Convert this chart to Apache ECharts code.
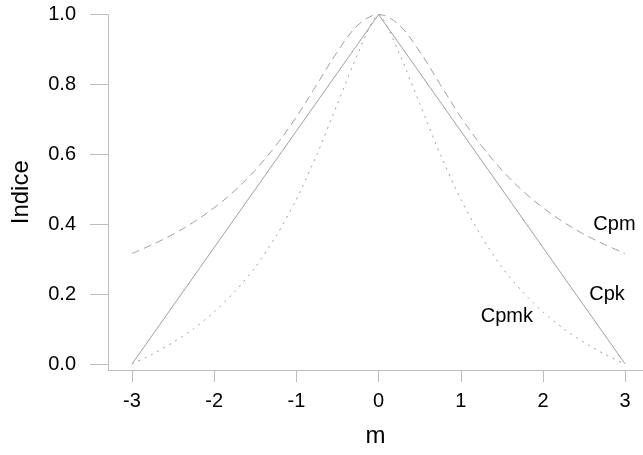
<!DOCTYPE html>
<html>
<head>
<meta charset="utf-8">
<script src="https://cdn.jsdelivr.net/npm/echarts@6/dist/echarts.min.js"></script>
<style>
html,body{margin:0;padding:0;background:#fff;}
#c{width:643px;height:455px;}
</style>
</head>
<body>
<div id="c"></div>
<script>
// m values
var mValues = [-3,-2.75,-2.5,-2.25,-2,-1.75,-1.5,-1.25,-1,-0.75,-0.5,-0.25,0,0.25,0.5,0.75,1,1.25,1.5,1.75,2,2.25,2.5,2.75,3];
// Cpm (dashed)
var cpmValues = [0.316,0.342,0.371,0.406,0.447,0.496,0.555,0.625,0.707,0.800,0.894,0.970,1.000,0.970,0.894,0.800,0.707,0.625,0.555,0.496,0.447,0.406,0.371,0.342,0.316];
// Cpmk (dotted)
var cpmkValues = [0.000,0.028,0.062,0.101,0.149,0.207,0.277,0.365,0.471,0.600,0.745,0.889,1.000,0.889,0.745,0.600,0.471,0.365,0.277,0.207,0.149,0.101,0.062,0.028,0.000];
// Cpk (solid)
var cpkM = [-3,0,3];
var cpkValues = [0,1,0];
// tick labels
var xTicks = [-3,-2,-1,0,1,2,3];
var yTicks = [0,0.2,0.4,0.6,0.8,1.0];
// curve labels
var curveLabels = [
  {name:'Cpm', m:2.87, v:0.40},
  {name:'Cpk', m:2.78, v:0.20},
  {name:'Cpmk', m:1.56, v:0.137}
];

function pairs(xs, ys){ return xs.map(function(x,i){ return [x, ys[i]]; }); }

var FONT = '"Liberation Sans", Arial, Helvetica, sans-serif';
var axisGray = '#bdbdbd';
var lineGray = '#a0a0a0';

var chart = echarts.init(document.getElementById('c'), null, {renderer:'canvas'});
chart.setOption({
  animation:false,
  backgroundColor:'#ffffff',
  grid:{left:108, right:0, top:14.5, bottom:85, containLabel:false},
  xAxis:{
    type:'value', min:-3.292, max:3.217,
    name:'m', nameLocation:'middle', nameGap:54,
    nameTextStyle:{fontFamily:FONT, fontSize:24, color:'#000'},
    axisLine:{show:true, onZero:false, lineStyle:{color:axisGray, width:1}},
    axisTick:{show:true, customValues:xTicks, length:12, inside:false, lineStyle:{color:axisGray}},
    axisLabel:{show:true, customValues:xTicks, margin:21, fontFamily:FONT, fontSize:20, color:'#000',
      formatter:function(v){ return String(v); }},
    splitLine:{show:false}
  },
  yAxis:{
    type:'value', min:-0.0172, max:1.0,
    name:'Indice', nameLocation:'middle', nameGap:75, nameRotate:90,
    nameTextStyle:{fontFamily:FONT, fontSize:24, color:'#000'},
    axisLine:{show:true, onZero:false, lineStyle:{color:axisGray, width:1}},
    axisTick:{show:true, customValues:yTicks, length:18, inside:false, lineStyle:{color:axisGray}},
    axisLabel:{show:true, customValues:yTicks, margin:32, fontFamily:FONT, fontSize:20, color:'#000',
      formatter:function(v){ return v.toFixed(1); }},
    splitLine:{show:false}
  },
  series:[
    {type:'line', name:'Cpk', data:pairs(cpkM, cpkValues), showSymbol:false, symbol:'none',
     lineStyle:{color:lineGray, width:1, type:'solid'}, silent:true},
    {type:'line', name:'Cpm', data:pairs(mValues, cpmValues), showSymbol:false, symbol:'none', smooth:0.35,
     lineStyle:{color:lineGray, width:1, type:[8,5]}, silent:true},
    {type:'line', name:'Cpmk', data:pairs(mValues, cpmkValues), showSymbol:false, symbol:'none', smooth:0.25,
     lineStyle:{color:lineGray, width:1, type:[2,5]}, silent:true},
    {type:'scatter', data:curveLabels.map(function(d){ return {value:[d.m, d.v], name:d.name}; }),
     symbolSize:0, silent:true, itemStyle:{color:'#000', opacity:1},
     label:{show:true, position:'inside', opacity:1, formatter:function(p){ return p.name; },
       fontFamily:FONT, fontSize:20, color:'#000', textBorderWidth:0}}
  ]
});
</script>
</body>
</html>
